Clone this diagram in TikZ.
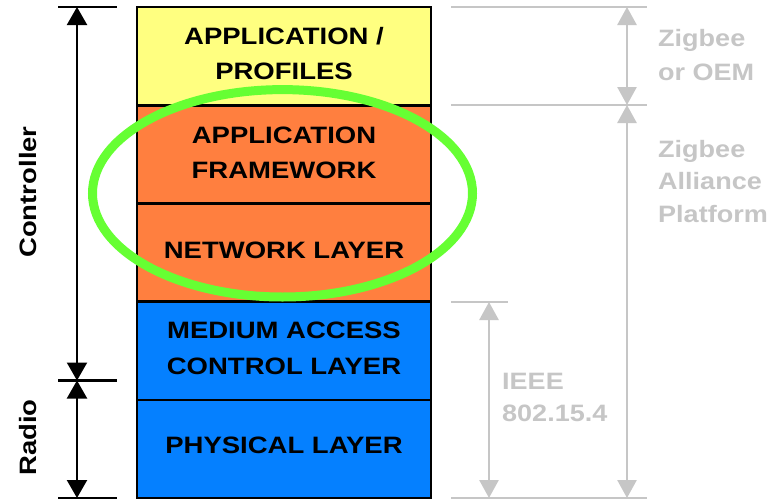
\documentclass[tikz,border=0pt]{standalone}
\usepackage{fontspec}
\usetikzlibrary{arrows.meta}
\newfontfamily\labfont[FakeStretch=1.16]{Liberation Sans}
\newfontfamily\notefont[FakeStretch=1.14]{Liberation Sans}
\definecolor{layeryellow}{HTML}{FFFF80}
\definecolor{layerorange}{HTML}{FF7F3F}
\definecolor{layerblue}{HTML}{0580FF}
\definecolor{ringgreen}{HTML}{66FF33}
\definecolor{notegray}{HTML}{C6C6C6}
\begin{document}
\begin{tikzpicture}[x=1pt,y=-1pt,
  layer/.style={draw=black, line width=2.6pt, minimum width=294pt, minimum height=98.2pt,
    inner sep=0pt, outer sep=0pt},
  layertext/.style={inner sep=0pt, align=center, yshift=2.5pt,
    font=\labfont\bfseries\fontsize{23.7}{35.5}\selectfont},
  sidelabel/.style={rotate=90, anchor=base, inner sep=0pt,
    font=\labfont\bfseries\fontsize{23.7}{28}\selectfont},
  notelabel/.style={anchor=north west, inner sep=0pt, align=left, text=notegray},
  blacktick/.style={draw=black, line width=2.2pt},
  blackspan/.style={draw=black, line width=2.2pt,
    {Triangle[length=18pt,width=20pt]}-{Triangle[length=18pt,width=20pt]}},
  graytick/.style={draw=notegray, line width=2.6pt},
  grayspan/.style={draw=notegray, line width=2.6pt,
    {Triangle[length=18pt,width=19pt]}-{Triangle[length=18pt,width=19pt]}},
  ring/.style={draw=ringgreen, line width=9pt}
]
\useasboundingbox[fill=white] (0,0) rectangle (774,501);

% protocol stack
\node[layer, fill=layeryellow, anchor=north west] (app) at (137,7) {};
\node[layer, fill=layerorange, anchor=north] (fw) at (app.south) {};
\node[layer, fill=layerorange, anchor=north] (nwk) at (fw.south) {};
\node[layer, fill=layerblue, anchor=north] (mac) at (nwk.south) {};
\node[layer, fill=layerblue, anchor=north] (phy) at (mac.south) {};
\node[layertext] (appt) at (app.center) {APPLICATION /\\PROFILES};
\node[layertext, yshift=-1pt] (fwt) at (fw.center) {APPLICATION\\FRAMEWORK};
\node[layertext] (nwkt) at (nwk.center) {NETWORK LAYER};
\node[layertext] (mact) at (mac.center) {MEDIUM ACCESS\\CONTROL LAYER};
\node[layertext, yshift=1pt] (phyt) at (phy.center) {PHYSICAL LAYER};

% highlight around the Zigbee network layers
\draw[ring] (282.5,193.3) ellipse [x radius=190pt, y radius=103.7pt];

% controller / radio split on the left
\coordinate (ctop) at (77,7);
\coordinate (cmid) at (77,380.5);
\coordinate (cbot) at (77,498);
\foreach \c in {ctop,cmid,cbot}
  \draw[blacktick] ([xshift=-19pt]\c) -- ([xshift=40pt]\c);
\draw[blackspan] (ctop) -- (cmid);
\draw[blackspan] (cmid) -- (cbot);
\node[sidelabel] (ctl) at (36,192) {Controller};
\node[sidelabel] (rad) at (36,437.5) {Radio};

% ownership of the layers on the right
\coordinate (ztop) at (627,7);
\coordinate (zmid) at (627,105);
\coordinate (zbot) at (627,498);
\coordinate (itop) at (489,302);
\coordinate (ibot) at (489,498);
\draw[graytick] (451,7) -- ([xshift=20pt]ztop);
\draw[graytick] (451,105) -- ([xshift=20pt]zmid);
\draw[graytick] (451,498) -- ([xshift=20pt]zbot);
\draw[graytick] (451,302) -- ([xshift=19pt]itop);
\draw[grayspan] (ztop) -- (zmid);
\draw[grayspan] (zmid) -- (zbot);
\draw[grayspan] (itop) -- (ibot);
\node[notelabel, font=\notefont\bfseries\fontsize{23.7}{34.3}\selectfont] (oem) at (658,29.3) {Zigbee\\or OEM};
\node[notelabel, font=\notefont\bfseries\fontsize{23.7}{32.6}\selectfont] (zap) at (658,140) {Zigbee\\Alliance\\Platform};
\node[notelabel, font=\notefont\bfseries\fontsize{23.7}{32.3}\selectfont] (ieee) at (502,372.7) {IEEE\\802.15.4};
\end{tikzpicture}
\end{document}
